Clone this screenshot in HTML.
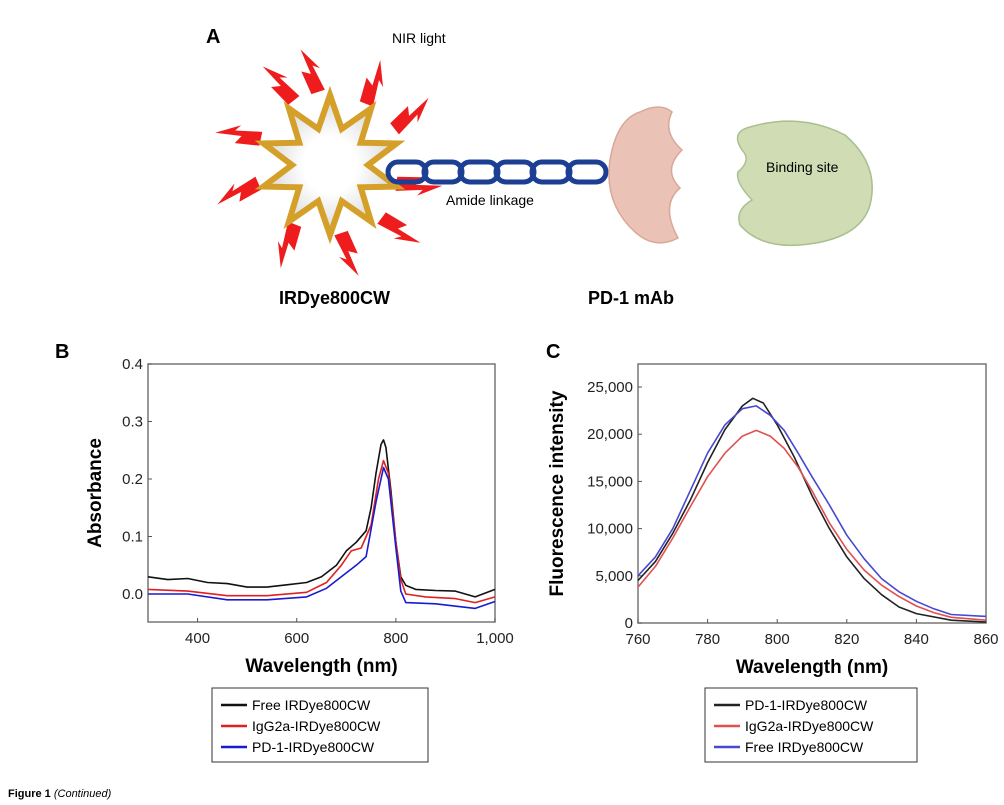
<!DOCTYPE html>
<html><head><meta charset="utf-8"><style>
body{margin:0;background:#fff;}
svg{display:block;font-family:"Liberation Sans",Arial,sans-serif;}
</style></head><body>
<svg id="fig" width="1004" height="805" viewBox="0 0 1004 805">
<defs>
<radialGradient id="starfill"><stop offset="0.4" stop-color="#fff"/><stop offset="1" stop-color="#d8d8d8"/></radialGradient>
</defs>
<g>
<text x="206" y="43" font-size="20" font-weight="bold">A</text>
<text x="392" y="43" font-size="14">NIR light</text>
<g id="bolts"></g>
<polygon id="star" fill="url(#starfill)" stroke="#d4a02a" stroke-width="6" stroke-linejoin="miter"/>
<g id="chain"></g>
<text x="446" y="205" font-size="14">Amide linkage</text>
<path d="M640,112 Q660,102 672,112 Q662,132 682,150 Q662,170 680,188 Q660,205 678,238 Q655,250 635,232 Q600,200 612,150 Q620,118 640,112Z" fill="#ebc3b6" stroke="#d9a797" stroke-width="1.5"/>
<path d="M750,127 Q800,112 845,135 Q880,165 870,205 Q860,240 800,245 Q760,248 740,225 Q735,210 752,200 Q735,182 738,172 Q752,160 742,150 Q730,132 750,127Z" fill="#cfdcb4" stroke="#aabf8f" stroke-width="1.5"/>
<text x="766" y="172" font-size="14">Binding site</text>
<text x="279" y="304" font-size="18" font-weight="bold">IRDye800CW</text>
<text x="588" y="304" font-size="18" font-weight="bold">PD-1 mAb</text>
</g>
<g id="chartB"></g>
<g id="chartC"></g>
<text x="8" y="797" font-size="11" font-weight="bold">Figure 1 <tspan font-weight="normal" font-style="italic">(Continued)</tspan></text>
</svg>
<script>
// ---------- Chart B data ----------
const bX_black=[300,340,380,420,460,500,540,580,620,650,680,700,720,740,750,760,770,775,780,790,800,810,820,840,880,920,960,1000];
const bY_black=[0.03,0.025,0.027,0.02,0.018,0.012,0.012,0.016,0.02,0.03,0.05,0.075,0.09,0.11,0.15,0.21,0.26,0.268,0.255,0.18,0.09,0.03,0.015,0.008,0.006,0.005,-0.005,0.008];
const bX_red=[300,380,460,540,620,660,690,710,730,750,765,775,785,800,810,820,860,920,960,1000];
const bY_red=[0.008,0.005,-0.003,-0.003,0.003,0.02,0.05,0.075,0.08,0.12,0.2,0.232,0.21,0.09,0.025,0.0,-0.005,-0.008,-0.015,-0.005];
const bX_blue=[300,380,460,540,620,660,690,720,740,760,775,785,800,810,820,880,960,1000];
const bY_blue=[0.0,0.0,-0.01,-0.01,-0.005,0.01,0.03,0.05,0.065,0.16,0.22,0.2,0.08,0.005,-0.015,-0.017,-0.025,-0.013];
const bXTicks=[400,600,800,1000];
const bXTickLabels=["400","600","800","1,000"];
const bYTicks=[0,0.1,0.2,0.3,0.4];
const bYTickLabels=["0.0","0.1","0.2","0.3","0.4"];
const bLegend=["Free IRDye800CW","IgG2a-IRDye800CW","PD-1-IRDye800CW"];
// ---------- Chart C data ----------
const cX_black=[760,765,770,775,780,785,790,793,796,800,805,810,815,820,825,830,835,840,850,860];
const cY_black=[4500,6500,9500,13000,17000,20500,23000,23800,23300,21000,17500,13500,10000,7000,4700,3000,1700,1000,300,100];
const cX_red=[760,765,770,775,780,785,790,794,798,802,806,810,815,820,825,830,835,840,845,850,860];
const cY_red=[3800,6000,9000,12300,15500,18000,19800,20400,19800,18500,16500,14000,10600,7800,5600,4000,2800,1800,1100,600,300];
const cX_blue=[760,765,770,775,780,785,790,794,798,802,806,810,815,820,825,830,835,840,845,850,860];
const cY_blue=[5000,7000,10000,14000,18000,21000,22700,23000,22000,20400,18000,15500,12500,9300,6800,4700,3300,2300,1500,900,700];
const cXTicks=[760,780,800,820,840,860];
const cXTickLabels=["760","780","800","820","840","860"];
const cYTicks=[0,5000,10000,15000,20000,25000];
const cYTickLabels=["0","5,000","10,000","15,000","20,000","25,000"];
const cLegend=["PD-1-IRDye800CW","IgG2a-IRDye800CW","Free IRDye800CW"];

const NS="http://www.w3.org/2000/svg";
function mk(tag,attrs,parent){const e=document.createElementNS(NS,tag);for(const k in attrs)e.setAttribute(k,attrs[k]);parent.appendChild(e);return e;}

function drawChart(g,o){
  const sx=v=>o.x0+(v-o.xmin)/(o.xmax-o.xmin)*(o.x1-o.x0);
  const sy=v=>o.yb-(v-o.ymin)/(o.ymax-o.ymin)*(o.yb-o.ytop);
  const frame=mk('rect',{x:o.x0,y:o.top,width:o.x1-o.x0,height:o.bottom-o.top,fill:'none',stroke:'#777','stroke-width':1.5},g);
  
  
  o.xticks.forEach((t,i)=>{
    const l=mk('line',{x1:sx(t),x2:sx(t),y1:o.bottom,y2:o.bottom-4,stroke:'#555'},g);
    
    
    const tx=mk('text',{x:sx(t),y:o.bottom+21,'font-size':15,'text-anchor':'middle',fill:'#222'},g);
    tx.textContent=o.xl[i];
    
    
  });
  o.yticks.forEach((t,i)=>{
    const l=mk('line',{x1:o.x0,x2:o.x0+4,y1:sy(t),y2:sy(t),stroke:'#555'},g);
    
    
    const tx=mk('text',{x:o.x0-5,y:sy(t)+5,'font-size':15,'text-anchor':'end',fill:'#222'},g);
    tx.textContent=o.yl[i];
    
    
  });
  const xt=mk('text',{x:(o.x0+o.x1)/2,y:o.bottom+50,'font-size':19,'font-weight':'bold','text-anchor':'middle'},g);
  xt.textContent='Wavelength (nm)';
  
  
  const yt=mk('text',{x:0,y:0,'font-size':19,'font-weight':'bold','text-anchor':'middle',transform:`translate(${o.ytx},${(o.top+o.bottom)/2}) rotate(-90)`},g);
  yt.textContent=o.ytitle;
  
  
  o.series.forEach(s=>{
    const d=s.x.map((v,i)=>(i?'L':'M')+sx(v).toFixed(1)+','+sy(s.y[i]).toFixed(1)).join(' ');
    const p=mk('path',{d:d,fill:'none',stroke:s.c,'stroke-width':1.6,'stroke-linejoin':'round'},g);
    
    
  });
  const lg=mk('g',{},g);
  
  
  mk('rect',{x:o.lx,y:688,width:o.lw,height:74,fill:'#fff',stroke:'#333','stroke-width':1},lg);
  o.legend.forEach((t,i)=>{
    const y=705+i*21;
    const ln=mk('line',{x1:o.lx+9,x2:o.lx+35,y1:y,y2:y,stroke:o.series[i].c,'stroke-width':2.5},lg);
    
    
    const tx=mk('text',{x:o.lx+40,y:y+5,'font-size':14},lg);
    tx.textContent=t;
    
    
  });
}
const gB=document.getElementById('chartB');
const lb=mk('text',{x:55,y:358,'font-size':20,'font-weight':'bold'},gB);lb.textContent='B';


drawChart(gB,{id:'absorbance',x0:148,x1:495,top:364,bottom:622,xmin:300,xmax:1000,ymin:0,ymax:0.4,yb:594,ytop:364,
  xticks:bXTicks,xl:bXTickLabels,yticks:bYTicks,yl:bYTickLabels,ytitle:'Absorbance',ytx:101,lx:212,lw:216,legend:bLegend,
  series:[{x:bX_black,y:bY_black,c:'#111',name:'free-irdye-line'},{x:bX_red,y:bY_red,c:'#e02020',name:'igg2a-irdye-line'},{x:bX_blue,y:bY_blue,c:'#1a1ad0',name:'pd1-irdye-line'}]});
const gC=document.getElementById('chartC');
const lc=mk('text',{x:546,y:358,'font-size':20,'font-weight':'bold'},gC);lc.textContent='C';


drawChart(gC,{id:'fluorescence',x0:638,x1:986,top:364,bottom:623,xmin:760,xmax:860,ymin:0,ymax:25000,yb:623,ytop:387,
  xticks:cXTicks,xl:cXTickLabels,yticks:cYTicks,yl:cYTickLabels,ytitle:'Fluorescence intensity',ytx:563,lx:705,lw:212,legend:cLegend,
  series:[{x:cX_black,y:cY_black,c:'#222',name:'pd1-irdye-line'},{x:cX_red,y:cY_red,c:'#e05050',name:'igg2a-irdye-line'},{x:cX_blue,y:cY_blue,c:'#4848d0',name:'free-irdye-line'}]});

// ---------- Diagram ----------
const cx=330,cy=165;
let pts=[];
for(let i=0;i<20;i++){const r=i%2?38:70;const a=-Math.PI/2+i*Math.PI/10;pts.push((cx+r*Math.cos(a)).toFixed(1)+','+(cy+r*Math.sin(a)).toFixed(1));}
document.getElementById('star').setAttribute('points',pts.join(' '));
const bolts=document.getElementById('bolts');
[[-100,95],[-60,92],[-30,95],[15,90],[45,95],[80,90],[120,90],[165,95],[200,95],[240,95]].forEach(([deg,r])=>{
  const g=mk('g',{transform:`translate(${cx},${cy}) rotate(${deg}) translate(${r},0)`},bolts);
  mk('polygon',{points:'-22,-6 2,-12 -2,-3 24,-9 2,7 6,0 -20,8',fill:'#ee1c1c'},g);
});
const chain=document.getElementById('chain');
for(let i=0;i<6;i++){
  const e=mk('rect',{x:388+i*36,y:162,width:38,height:20,rx:10,fill:'none',stroke:'#1c3f94','stroke-width':5},chain);
  
  
}
</script>
</body></html>
